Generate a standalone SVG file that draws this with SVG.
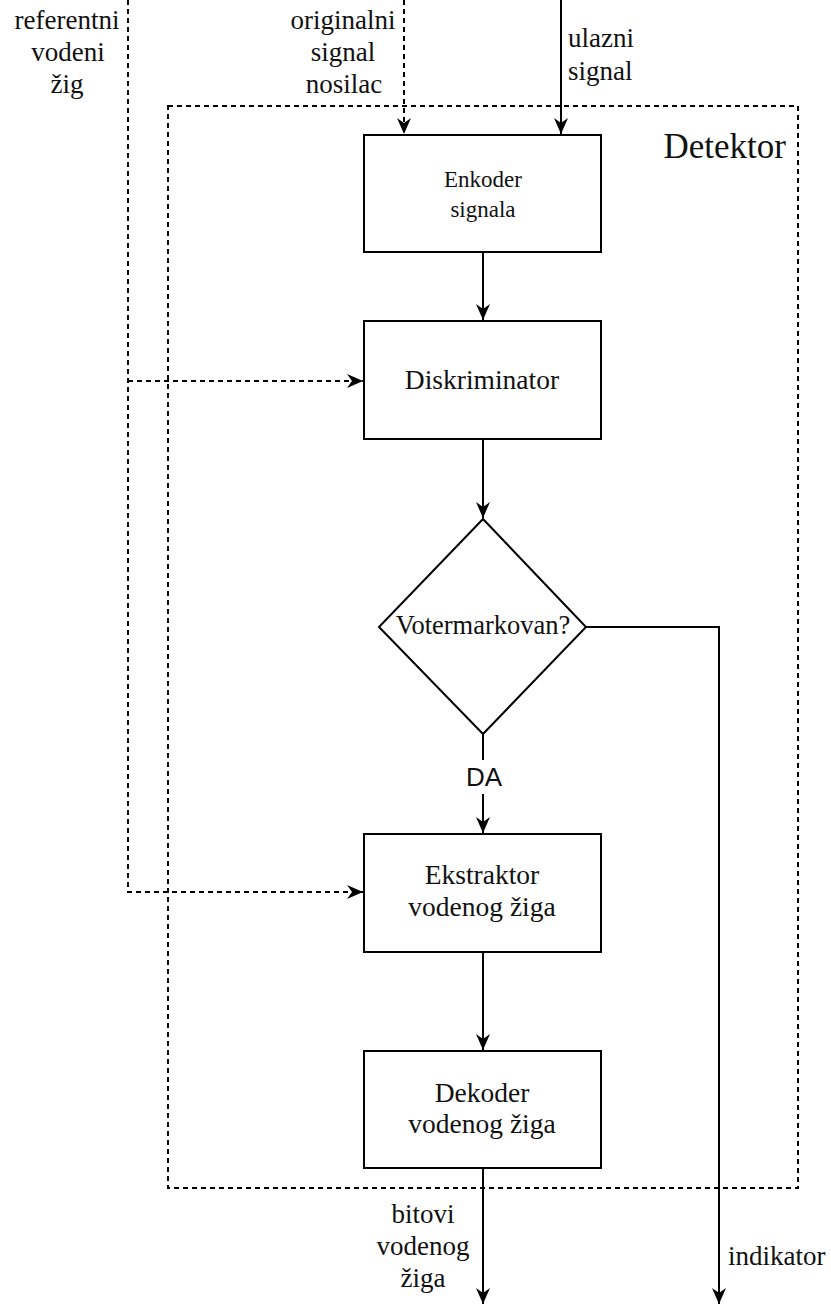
<svg xmlns="http://www.w3.org/2000/svg" width="831" height="1308" viewBox="0 0 831 1308">
<style>
.box{fill:#fff;stroke:#000;stroke-width:2}
.ln{fill:none;stroke:#000;stroke-width:2}
.dash{fill:none;stroke:#000;stroke-width:2;stroke-dasharray:5 4}
text{font-family:"Liberation Serif","Times New Roman",serif;fill:#111;font-size:27px}
.c{text-anchor:middle}
.sans{font-family:"Liberation Sans",Arial,sans-serif}
</style>
<defs>
<marker id="arr" viewBox="0 0 16 14" refX="16" refY="7" markerWidth="16" markerHeight="14" markerUnits="userSpaceOnUse" orient="auto">
<path d="M0,0 L16,7 L0,14 L5,7 z" fill="#000"/>
</marker>
</defs>
<rect width="831" height="1308" fill="#fff"/>
<g id="detektor-frame">
<rect x="168" y="106" width="630" height="1082" class="dash"/>
<text x="786" y="158" style="font-size:35px" text-anchor="end">Detektor</text>
</g>
<g id="connectors">
<path class="dash" d="M128,0 V892 H363" marker-end="url(#arr)"/>
<path class="dash" d="M128,381 H363" marker-end="url(#arr)"/>
<path class="dash" d="M404,0 V134" marker-end="url(#arr)"/>
<path class="ln" d="M561,0 V134" marker-end="url(#arr)"/>
<path class="ln" d="M483,252 V320" marker-end="url(#arr)"/>
<path class="ln" d="M483,439 V518" marker-end="url(#arr)"/>
<path class="ln" d="M483,734 V760"/>
<path class="ln" d="M483,794 V833" marker-end="url(#arr)"/>
<path class="ln" d="M483,952 V1050" marker-end="url(#arr)"/>
<path class="ln" d="M483,1168 V1304" marker-end="url(#arr)"/>
<path class="ln" d="M586,627 H719 V1304" marker-end="url(#arr)"/>
<text x="484" y="786" class="c sans" style="font-size:26px">DA</text>
</g>
<g id="label-referentni">
<text x="67" y="29" class="c">referentni</text>
<text x="68" y="61" class="c">vodeni</text>
<text x="67" y="93" class="c">žig</text>
</g>
<g id="label-originalni">
<text x="343" y="29" class="c">originalni</text>
<text x="343" y="61" class="c">signal</text>
<text x="344" y="93" class="c">nosilac</text>
</g>
<g id="label-ulazni">
<text x="568" y="47">ulazni</text>
<text x="568" y="80">signal</text>
</g>
<g id="enkoder">
<rect x="364" y="135" width="237" height="117" class="box"/>
<text x="483" y="187" class="c" style="font-size:23px">Enkoder</text>
<text x="483" y="217" class="c" style="font-size:23px">signala</text>
</g>
<g id="diskriminator">
<rect x="364" y="321" width="237" height="118" class="box"/>
<text x="482" y="389" class="c" style="font-size:27.5px">Diskriminator</text>
</g>
<g id="votermarkovan">
<path d="M483,519 L586,627 L483,734 L379,627 Z" class="box"/>
<text x="483" y="634" class="c" style="font-size:26.5px">Votermarkovan?</text>
</g>
<g id="ekstraktor">
<rect x="364" y="834" width="237" height="118" class="box"/>
<text x="482" y="884" class="c" style="font-size:27.5px">Ekstraktor</text>
<text x="482" y="916" class="c" style="font-size:27.5px">vodenog žiga</text>
</g>
<g id="dekoder">
<rect x="364" y="1051" width="237" height="117" class="box"/>
<text x="482" y="1102" class="c" style="font-size:27.5px">Dekoder</text>
<text x="482" y="1133" class="c" style="font-size:27.5px">vodenog žiga</text>
</g>
<g id="label-bitovi">
<text x="423" y="1223" class="c">bitovi</text>
<text x="423" y="1255" class="c">vodenog</text>
<text x="423" y="1287" class="c">žiga</text>
</g>
<g id="label-indikator">
<text x="728" y="1265">indikator</text>
</g>
</svg>
